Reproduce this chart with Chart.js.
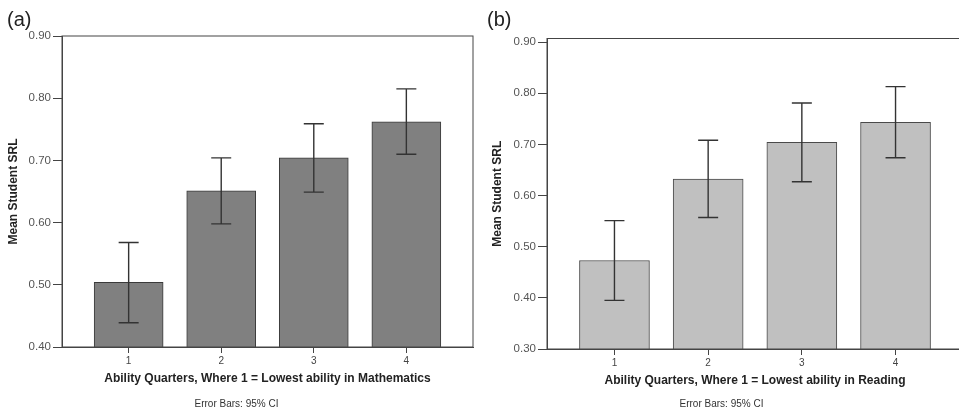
<!DOCTYPE html>
<html>
<head>
<meta charset="utf-8">
<script src="https://cdn.jsdelivr.net/npm/chart.js@4.4.1/dist/chart.umd.min.js"></script>
<style>
  html, body { margin: 0; padding: 0; background: #fff; overflow: hidden; }
  body { width: 959px; height: 412px; position: relative; }
  .panel { position: absolute; top: 0; height: 412px; }
  #panelA { left: 0; width: 480px; }
  #panelB { left: 480px; width: 490px; }
</style>
</head>
<body>
<div class="panel" id="panelA"><canvas id="chartA"></canvas></div>
<div class="panel" id="panelB"><canvas id="chartB"></canvas></div>
<script>
const quarters = [1, 2, 3, 4];

// (a) Mathematics
const mathMeans = [0.504, 0.651, 0.704, 0.762];
const mathLow = [0.439, 0.598, 0.649, 0.710];
const mathHigh = [0.568, 0.704, 0.759, 0.815];
const mathTicks = [0.40, 0.50, 0.60, 0.70, 0.80, 0.90];

// (b) Reading
const readMeans = [0.473, 0.632, 0.704, 0.743];
const readLow = [0.395, 0.557, 0.627, 0.674];
const readHigh = [0.551, 0.708, 0.781, 0.813];
const readTicks = [0.30, 0.40, 0.50, 0.60, 0.70, 0.80, 0.90];

Chart.defaults.font.family = "'Liberation Sans', Arial, sans-serif";
Chart.defaults.animation = false;

// error bars + frame + panel letter
const extras = {
	id: "extras",
	afterDatasetsDraw(chart, args, opts) {
		const { ctx, chartArea } = chart;
		const xs = chart.scales.x;
		const ys = chart.scales.y;
		ctx.save();
		ctx.strokeStyle = "#333";
		ctx.lineWidth = 1.4;
		quarters.forEach((q, i) => {
			const x = xs.getPixelForValue(q);
			const yl = ys.getPixelForValue(opts.low[i]);
			const yh = ys.getPixelForValue(opts.high[i]);
			ctx.beginPath();
			ctx.moveTo(x, yl); ctx.lineTo(x, yh);
			ctx.moveTo(x - 10, yl); ctx.lineTo(x + 10, yl);
			ctx.moveTo(x - 10, yh); ctx.lineTo(x + 10, yh);
			ctx.stroke();
		});
		ctx.strokeStyle = "#444";
		ctx.lineWidth = 1;
		ctx.strokeRect(chartArea.left, chartArea.top, chartArea.right - chartArea.left, chartArea.bottom - chartArea.top);
		ctx.fillStyle = "#222";
		ctx.font = "20px 'Liberation Sans', Arial, sans-serif";
		ctx.textBaseline = "alphabetic";
		ctx.fillText(opts.letter, opts.letterX, 26);
		ctx.restore();
	}
};

function makeChart(id, cfg) {
	return new Chart(document.getElementById(id), {
		type: "bar",
		data: {
			datasets: [{
				data: quarters.map((q, i) => ({ x: q, y: cfg.means[i] })),
				backgroundColor: cfg.fill,
				borderColor: cfg.edge,
				borderWidth: 1,
				barThickness: cfg.barWidth
			}]
		},
		options: {
			responsive: true,
			maintainAspectRatio: false,
			layout: { padding: { top: cfg.top, right: 7, left: 0, bottom: 0 } },
			plugins: {
				legend: { display: false },
				tooltip: { enabled: false },
				subtitle: {
					display: true,
					position: "bottom",
					text: "Error Bars: 95% CI",
					color: "#333",
					font: { size: 10 },
					padding: { top: cfg.noteTop, bottom: 2 }
				},
				extras: { low: cfg.low, high: cfg.high, letter: cfg.letter, letterX: cfg.letterX }
			},
			scales: {
				x: {
					type: "linear",
					min: 0.28,
					max: 4.72,
					offset: false,
					afterBuildTicks: s => { s.ticks = quarters.map(v => ({ value: v })); },
					afterFit: s => { s.height = 40; },
					ticks: { color: "#444", font: { size: 10 }, padding: 2, callback: v => String(v) },
					grid: { drawOnChartArea: false, offset: false, tickLength: 6, color: "#444" },
					border: { color: "#444" },
					title: {
						display: true,
						text: cfg.xTitle,
						color: "#222",
						font: { size: 12, weight: "bold" },
						padding: { top: 0, bottom: 1 }
					}
				},
				y: {
					min: cfg.yMin,
					max: cfg.yMax,
					afterBuildTicks: s => { s.ticks = cfg.ticks.map(v => ({ value: v })); },
					afterFit: s => { s.width = cfg.yWidth; },
					ticks: { color: "#555", font: { size: 11.5 }, padding: 2, callback: v => v.toFixed(2) },
					grid: { drawOnChartArea: false, tickLength: 9, color: "#444" },
					border: { color: "#444" },
					title: {
						display: true,
						text: "Mean Student SRL",
						color: "#222",
						font: { size: 12, weight: "bold" },
						padding: { top: cfg.yTitlePad, bottom: 0 }
					}
				}
			}
		},
		plugins: [extras]
	});
}

makeChart("chartA", {
	means: mathMeans, low: mathLow, high: mathHigh, ticks: mathTicks,
	yMin: 0.4, yMax: 0.9, top: 36, yWidth: 62, yTitlePad: 6,
	fill: "#808080", edge: "#3a3a3a", barWidth: 69,
	xTitle: "Ability Quarters, Where 1 = Lowest ability in Mathematics",
	letter: "(a)", letterX: 7, noteTop: 11
});

makeChart("chartB", {
	means: readMeans, low: readLow, high: readHigh, ticks: readTicks,
	yMin: 0.3, yMax: 0.907, top: 38.5, yWidth: 67, yTitlePad: 10,
	fill: "#c0c0c0", edge: "#4a4a4a", barWidth: 70,
	xTitle: "Ability Quarters, Where 1 = Lowest ability in Reading",
	letter: "(b)", letterX: 7, noteTop: 9
});
</script>
</body>
</html>
